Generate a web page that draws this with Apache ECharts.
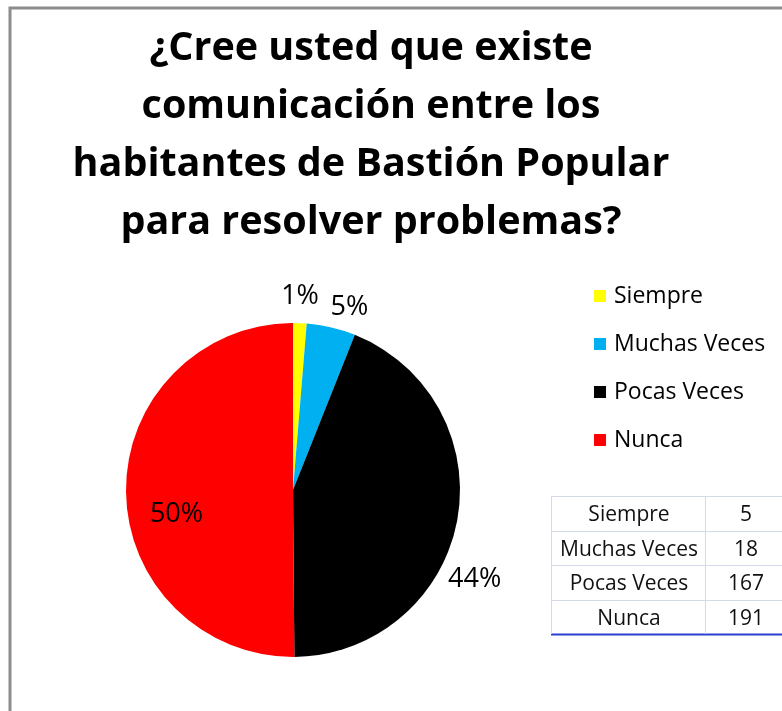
<!DOCTYPE html>
<html>
<head>
<meta charset="utf-8">
<script src="https://cdn.jsdelivr.net/npm/echarts@6/dist/echarts.min.js"></script>
<style>
  html, body { margin: 0; padding: 0; background: #fff; }
  #chart { width: 782px; height: 711px; }
</style>
</head>
<body>
<div id="chart"></div>
<script>
const categories = ['Siempre', 'Muchas Veces', 'Pocas Veces', 'Nunca'];
const counts = [5, 18, 167, 191];
const colors = ['#FFFF00', '#00B0F0', '#000000', '#FF0000'];
const titleText = '¿Cree usted que existe\ncomunicación entre los\nhabitantes de Bastión Popular\npara resolver problemas?';

const font = '"Open Sans", "Noto Sans", sans-serif';

// nudges for the percentage labels (Excel best-fit look)
const labelNudge = [[-24, -21], [-59, -39], [-15, 57], [-30, 24]];

// table at the bottom right, built from the data arrays
const tableX = 551, tableY = 496, rowH = 34.5, col1W = 154, col2W = 90;
const tableItems = [];
categories.forEach((name, i) => {
  const y = tableY + i * rowH + rowH / 2 + 2;
  tableItems.push({
    type: 'text', x: tableX + col1W / 2 + 1, y: y,
    style: { text: name, font: '21px ' + font, fill: '#111', align: 'center', verticalAlign: 'middle' }
  });
  tableItems.push({
    type: 'text', x: 746, y: y,
    style: { text: String(counts[i]), font: '21px ' + font, fill: '#111', align: 'center', verticalAlign: 'middle' }
  });
});
// grid lines of the table
for (let i = 0; i <= categories.length; i++) {
  const last = i === categories.length;
  const y = Math.round(tableY + i * rowH) + 0.5;
  tableItems.push({
    type: 'line', shape: { x1: tableX, y1: y, x2: tableX + col1W + col2W, y2: y },
    style: { stroke: last ? '#2a3fd0' : '#d3dbe8', lineWidth: last ? 2 : 1 }
  });
}
[tableX, tableX + col1W].forEach(x => {
  tableItems.push({
    type: 'line', shape: { x1: x + 0.5, y1: tableY, x2: x + 0.5, y2: tableY + rowH * categories.length },
    style: { stroke: '#d3dbe8', lineWidth: 1 }
  });
});

const chart = echarts.init(document.getElementById('chart'), null, { renderer: 'canvas' });
chart.setOption({
  backgroundColor: '#fff',
  animation: false,
  title: {
    text: titleText,
    left: 366,
    top: 15,
    textAlign: 'center',
    textStyle: { fontFamily: font, fontWeight: 'bold', fontSize: 39.5, lineHeight: 58, color: '#000' }
  },
  legend: {
    orient: 'vertical',
    left: 594,
    top: 284,
    padding: 0,
    itemWidth: 12,
    itemHeight: 12,
    itemGap: 24,
    icon: 'rect',
    data: categories,
    textStyle: { fontFamily: font, fontSize: 23, color: '#000', lineHeight: 24, padding: [0, 0, 0, 3] }
  },
  graphic: [
    {
      type: 'polyline',
      shape: { points: [[10, 711], [10, 8], [782, 8]] },
      style: { stroke: '#8c8c8c', fill: null, lineWidth: 3 }
    },
    { type: 'group', children: tableItems }
  ],
  series: [{
    type: 'pie',
    center: [293, 490],
    radius: [0, 167],
    startAngle: 90,
    clockwise: true,
    data: categories.map((name, i) => ({
      name,
      value: counts[i],
      itemStyle: { color: colors[i] },
      label: i === 3 ? { position: 'inside' } : {}
    })),
    label: {
      show: true,
      position: 'outside',
      formatter: p => Math.round(p.percent) + '%',
      fontFamily: font,
      fontSize: 27,
      color: '#000'
    },
    labelLine: { show: false, length: 6, length2: 0 },
    labelLayout: p => ({ dx: labelNudge[p.dataIndex][0], dy: labelNudge[p.dataIndex][1] })
  }]
});
</script>
</body>
</html>
